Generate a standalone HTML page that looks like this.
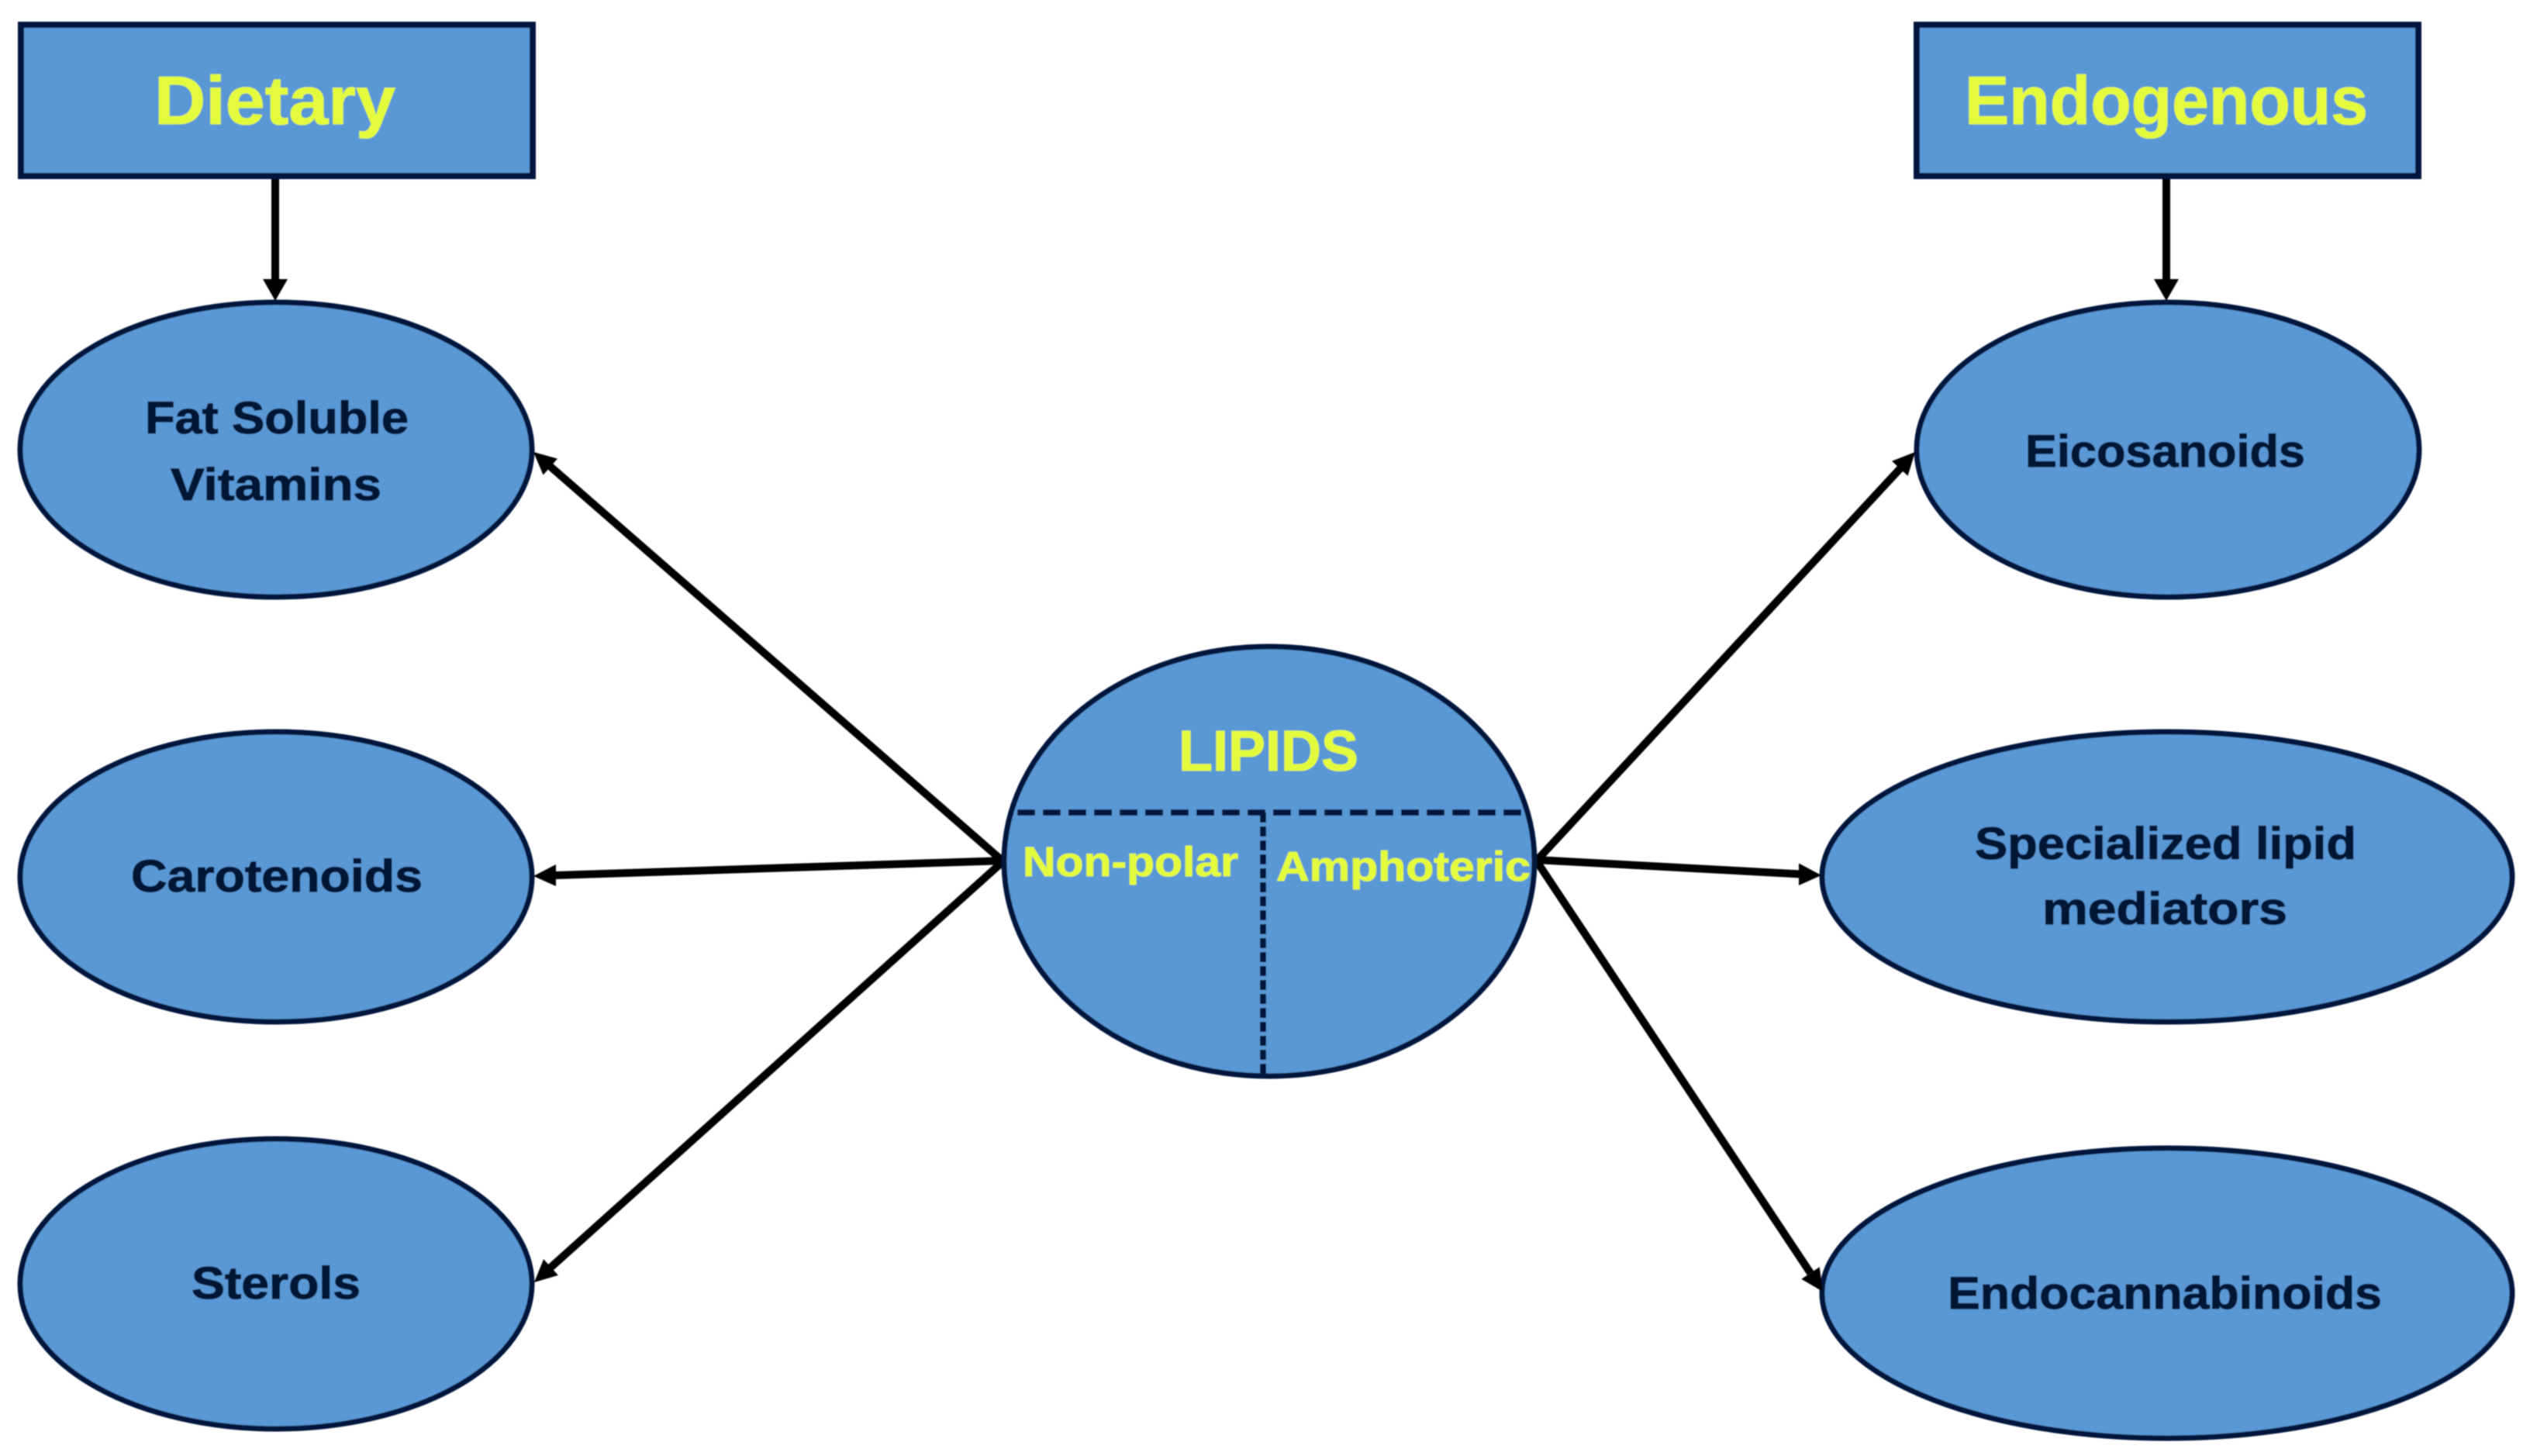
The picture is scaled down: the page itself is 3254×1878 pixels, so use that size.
<!DOCTYPE html>
<html>
<head>
<meta charset="utf-8">
<style>
html,body{margin:0;padding:0;background:#fff;width:3254px;height:1878px;overflow:hidden}
svg{display:block}
text{font-family:"Liberation Sans",sans-serif;font-weight:bold}
.d{fill:#061236;stroke:#061236;stroke-width:1.2px;font-size:58px}
.y{fill:#e4fb3c;stroke:#e4fb3c;stroke-width:.8px}
</style>
</head>
<body>
<svg width="3254" height="1878" viewBox="0 0 3254 1878" xmlns="http://www.w3.org/2000/svg">
<defs>
<filter id="b" x="-5%" y="-5%" width="110%" height="110%"><feGaussianBlur stdDeviation="0.9"/></filter>
</defs>
<rect width="3254" height="1878" fill="#fff"/>
<g filter="url(#b)">
  <!-- Connectors -->
  <g stroke="#030303" stroke-width="10" fill="none">
    <line x1="355" y1="230" x2="355" y2="365"/>
    <line x1="2794" y1="230" x2="2794" y2="365"/>
    <line x1="1296" y1="1113" x2="709" y2="601"/>
    <line x1="1296" y1="1110" x2="717" y2="1129"/>
    <line x1="1296" y1="1109" x2="710" y2="1635"/>
    <line x1="1980" y1="1112" x2="2451" y2="604"/>
    <line x1="1980" y1="1109" x2="2322" y2="1127.5"/>
    <line x1="1980" y1="1108" x2="2335" y2="1642"/>
  </g>
  <!-- Shapes -->
  <g fill="#5a98d5" stroke="#06163c" stroke-width="7">
    <rect x="27" y="32" width="660" height="195" stroke-width="8"/>
    <rect x="2472" y="32" width="647" height="195" stroke-width="8"/>
    <ellipse cx="356" cy="580" rx="330" ry="190"/>
    <ellipse cx="356" cy="1131" rx="330" ry="187"/>
    <ellipse cx="356" cy="1656" rx="330" ry="187"/>
    <ellipse cx="2796" cy="580" rx="324" ry="190"/>
    <ellipse cx="2795" cy="1131" rx="445" ry="187"/>
    <ellipse cx="2795" cy="1668" rx="445" ry="187"/>
    <ellipse cx="1637" cy="1111" rx="342" ry="277"/>
  </g>
  <!-- Arrowheads -->
  <g fill="#030303">
    <polygon points="355,388 339,360 371,360"/>
    <polygon points="2794,388 2778,360 2810,360"/>
    <polygon points="688,583 700.6,612.6 719,591.6"/>
    <polygon points="688,1130 717,1115 717,1143"/>
    <polygon points="689,1654 719.9,1644.9 701.1,1624.1"/>
    <polygon points="2470,583 2460.6,613.8 2440,594.8"/>
    <polygon points="2349,1129 2320,1113.5 2320,1142"/>
    <polygon points="2351,1666 2346.7,1634.3 2323.3,1649.7"/>
  </g>
  <!-- Dashed dividers -->
  <line x1="1312" y1="1048" x2="1970" y2="1048" stroke="#06163c" stroke-width="8" stroke-dasharray="23 10"/>
  <line x1="1629" y1="1048" x2="1629" y2="1386" stroke="#06163c" stroke-width="8" stroke-dasharray="13 5"/>
  <!-- Labels -->
  <text class="y" x="199" y="160" font-size="88" textLength="311" lengthAdjust="spacingAndGlyphs">Dietary</text>
  <text class="y" x="2534" y="160" font-size="88" textLength="520" lengthAdjust="spacingAndGlyphs">Endogenous</text>
  <text class="y" x="1520" y="994" font-size="74" textLength="232" lengthAdjust="spacingAndGlyphs">LIPIDS</text>
  <text class="y" x="1319" y="1130" font-size="54" textLength="278" lengthAdjust="spacingAndGlyphs">Non-polar</text>
  <text class="y" x="1646" y="1136" font-size="54" textLength="328" lengthAdjust="spacingAndGlyphs">Amphoteric</text>
  <text class="d" x="187" y="559" textLength="340" lengthAdjust="spacingAndGlyphs">Fat Soluble</text>
  <text class="d" x="220" y="645" textLength="272" lengthAdjust="spacingAndGlyphs">Vitamins</text>
  <text class="d" x="169" y="1150" textLength="376" lengthAdjust="spacingAndGlyphs">Carotenoids</text>
  <text class="d" x="247" y="1675" textLength="218" lengthAdjust="spacingAndGlyphs">Sterols</text>
  <text class="d" x="2612" y="602" textLength="361" lengthAdjust="spacingAndGlyphs">Eicosanoids</text>
  <text class="d" x="2547" y="1108" textLength="492" lengthAdjust="spacingAndGlyphs">Specialized lipid</text>
  <text class="d" x="2634" y="1192" textLength="316" lengthAdjust="spacingAndGlyphs">mediators</text>
  <text class="d" x="2512" y="1688" textLength="560" lengthAdjust="spacingAndGlyphs">Endocannabinoids</text>
</g>
</svg>
</body>
</html>
